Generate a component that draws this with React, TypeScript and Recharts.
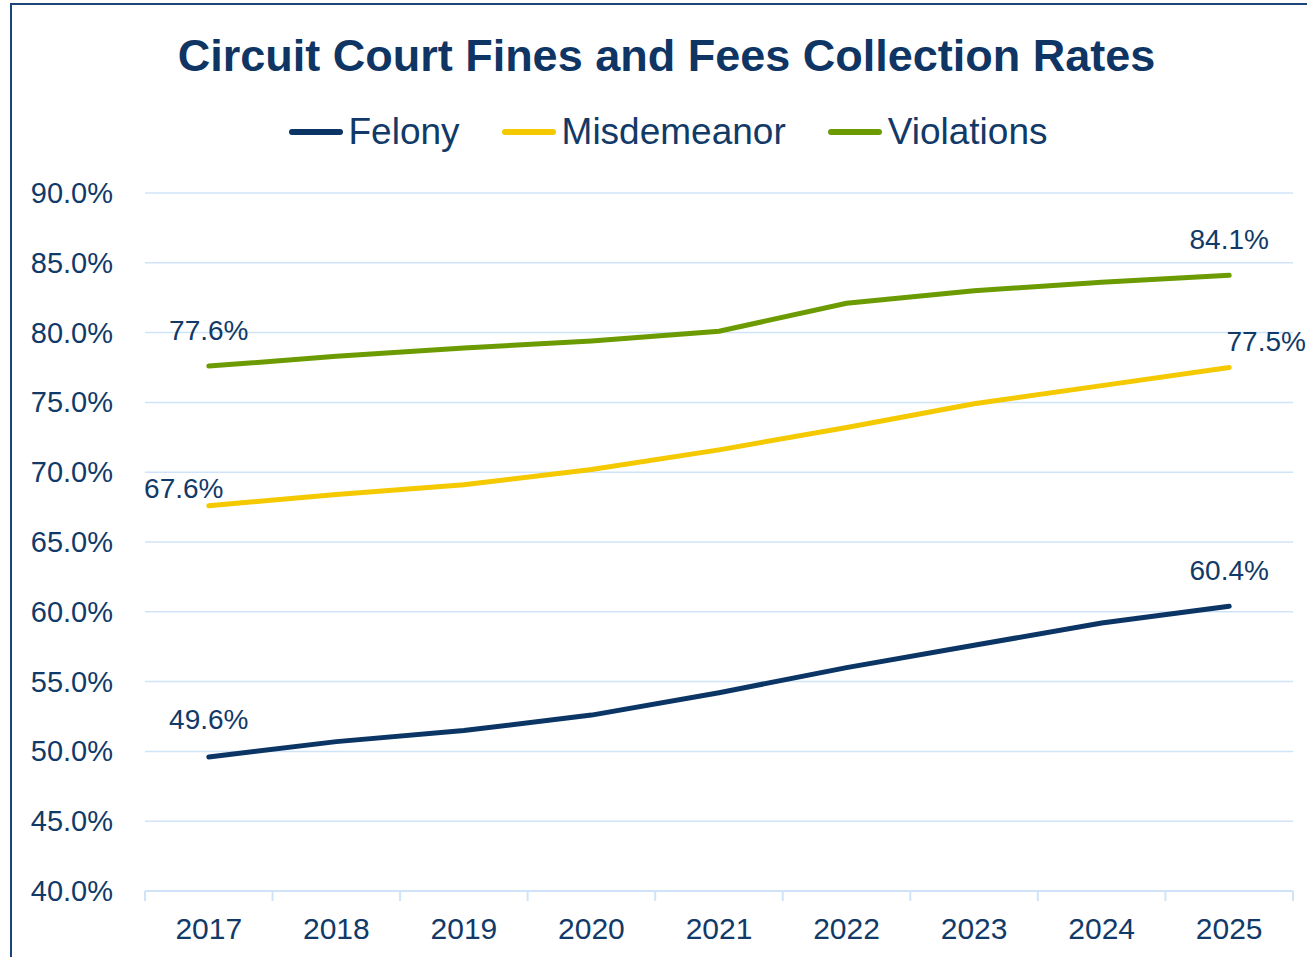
import { LineChart, Line, XAxis, YAxis, CartesianGrid } from 'recharts'

const years = ['2017', '2018', '2019', '2020', '2021', '2022', '2023', '2024', '2025']
const felony = [49.6, 50.7, 51.5, 52.6, 54.2, 56.0, 57.6, 59.2, 60.4]
const misdemeanor = [67.6, 68.4, 69.1, 70.2, 71.6, 73.2, 74.9, 76.2, 77.5]
const violations = [77.6, 78.3, 78.9, 79.4, 80.1, 82.1, 83.0, 83.6, 84.1]
const yTicks = [40, 45, 50, 55, 60, 65, 70, 75, 80, 85, 90]

const data = years.map((year, i) => ({
  year,
  felony: felony[i],
  misdemeanor: misdemeanor[i],
  violations: violations[i],
}))

const FONT = '"Liberation Sans", Arial, sans-serif'
const TEXT = '#123a68'
const GRID = '#cfe4f8'

const series = [
  { key: 'felony', name: 'Felony', color: '#0b3564' },
  { key: 'misdemeanor', name: 'Misdemeanor', color: '#f4c900' },
  { key: 'violations', name: 'Violations', color: '#6b9b00' },
]

// label nudges for first / last point
const labelOffsets: Record<string, [number, number][]> = {
  felony: [[0, -37], [0, -36]],
  misdemeanor: [[-25, -17], [37, -26]],
  violations: [[0, -36], [0, -36]],
}

const HALF_BAND = 63.8

const makeLabel = (key: string) => (props: any) => {
  const { x, y, value, index } = props
  const last = years.length - 1
  if (index !== 0 && index !== last) return null
  const [dx, dy] = labelOffsets[key][index === 0 ? 0 : 1]
  return (
    <text
      key={`${key}-${index}`}
      x={x + dx}
      y={y + dy}
      textAnchor="middle"
      dominantBaseline="central"
      fill={TEXT}
      fontSize={28}
      fontFamily={FONT}
    >
      {value.toFixed(1)}%
    </text>
  )
}

const XTick = (props: any) => {
  const { x, payload, index } = props
  const axisY = 891
  return (
    <g>
      <line x1={x - HALF_BAND} x2={x - HALF_BAND} y1={axisY} y2={axisY + 10} stroke={GRID} strokeWidth={2} />
      {index === years.length - 1 && (
        <line x1={x + HALF_BAND} x2={x + HALF_BAND} y1={axisY} y2={axisY + 10} stroke={GRID} strokeWidth={2} />
      )}
      <text x={x} y={928} textAnchor="middle" dominantBaseline="central" fill={TEXT} fontSize={30} fontFamily={FONT}>
        {payload.value}
      </text>
    </g>
  )
}

const YTick = (props: any) => {
  const { y, payload } = props
  return (
    <text x={113} y={y} textAnchor="end" dominantBaseline="central" fill={TEXT} fontSize={29} fontFamily={FONT}>
      {payload.value.toFixed(1)}%
    </text>
  )
}

export default function App() {
  return (
    <div
      style={{
        position: 'absolute',
        left: 0,
        top: 0,
        width: 1307,
        height: 957,
        overflow: 'hidden',
        background: 'white',
      }}
    >
      <div
        style={{
          position: 'absolute',
          left: 10,
          top: 3,
          width: 1400,
          height: 1100,
          border: '2px solid #1b4478',
          boxSizing: 'border-box',
        }}
      />
      <div
        style={{
          position: 'absolute',
          left: 0,
          top: 30,
          width: 1333,
          textAlign: 'center',
          fontFamily: FONT,
          fontWeight: 'bold',
          fontSize: 45,
          lineHeight: '52px',
          color: '#0e3563',
        }}
      >
        Circuit Court Fines and Fees Collection Rates
      </div>
      <div
        style={{
          position: 'absolute',
          left: 0,
          top: 110,
          width: 1336,
          height: 44,
          display: 'flex',
          justifyContent: 'center',
          alignItems: 'center',
          gap: 42,
          fontFamily: FONT,
          fontSize: 37,
          color: TEXT,
        }}
      >
        {series.map((s) => (
          <div key={s.key} style={{ display: 'flex', alignItems: 'center' }}>
            <span
              style={{
                display: 'inline-block',
                width: 54,
                height: 6,
                borderRadius: 3,
                background: s.color,
                marginRight: 6,
              }}
            />
            <span>{s.name}</span>
          </div>
        ))}
      </div>
      <LineChart
        width={1307}
        height={957}
        data={data}
        margin={{ top: 193, right: 14, left: 0, bottom: 6 }}
        style={{ position: 'absolute', left: 0, top: 0 }}
      >
        <CartesianGrid vertical={false} stroke={GRID} strokeWidth={1.5} />
        <XAxis
          dataKey="year"
          height={60}
          padding={{ left: HALF_BAND, right: HALF_BAND }}
          axisLine={{ stroke: GRID, strokeWidth: 2 }}
          tickLine={false}
          tick={<XTick />}
          interval={0}
        />
        <YAxis
          width={145}
          domain={[40, 90]}
          ticks={yTicks}
          axisLine={false}
          tickLine={false}
          tick={<YTick />}
          allowDataOverflow
        />
        {series.map((s) => (
          <Line
            key={s.key}
            type="linear"
            dataKey={s.key}
            name={s.name}
            stroke={s.color}
            strokeWidth={5}
            strokeLinecap="round"
            dot={false}
            activeDot={false}
            label={makeLabel(s.key)}
            isAnimationActive={false}
          />
        ))}
      </LineChart>
    </div>
  )
}
